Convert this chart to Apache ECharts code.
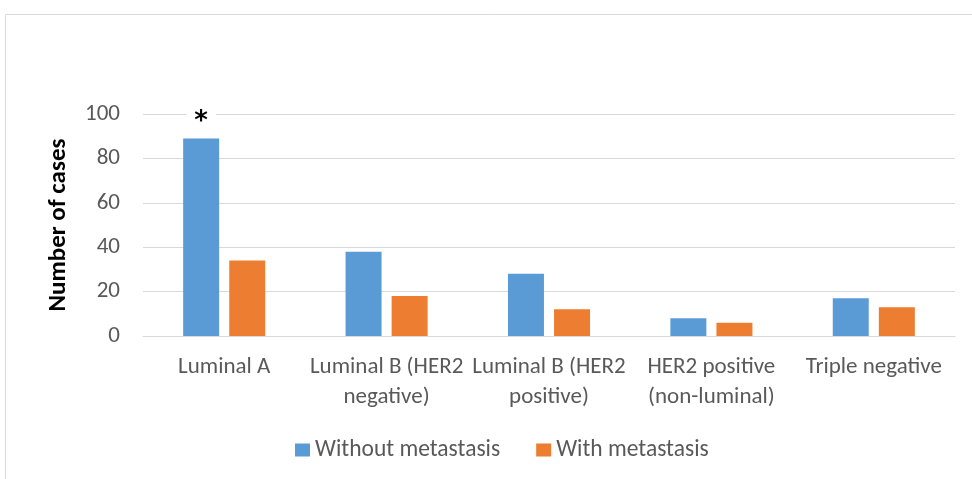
<!DOCTYPE html>
<html><head><meta charset="utf-8">
<script src="https://cdn.jsdelivr.net/npm/echarts@6/dist/echarts.min.js"></script>
<style>html,body{margin:0;padding:0;background:#fff}#c{width:972px;height:479px}</style>
</head><body><div id="c"></div>
<script>
const categories = ["Luminal A", "Luminal B (HER2 negative)", "Luminal B (HER2 positive)", "HER2 positive (non-luminal)", "Triple negative"];
const withoutMetastasis = [89, 38, 28, 8, 17];
const withMetastasis = [34, 18, 12, 6, 13];
const significance = ["*", "", "", "", ""];
const yTicks = [0, 20, 40, 60, 80, 100];

const FONT = "Carlito, 'Liberation Sans Narrow', 'Liberation Sans', sans-serif";
const chart = echarts.init(document.getElementById('c'), null, {renderer: 'canvas'});
chart.setOption({
  animation: false,
  textStyle: {fontFamily: FONT},
  graphic: [{type: 'rect', shape: {x: 5.5, y: 14.5, width: 1000, height: 1000}, style: {fill: 'none', stroke: '#d9d9d9', lineWidth: 1}, z: -10}],
  grid: {left: 143, right: 17, top: 114, bottom: 143},
  legend: {
    top: 433, left: 290, itemWidth: 15, itemHeight: 13, itemGap: 36,
    icon: 'rect',
    textStyle: {fontSize: 23.5, color: '#595959', fontFamily: FONT},
    data: ['Without metastasis', 'With metastasis']
  },
  xAxis: {
    type: 'category', data: categories,
    axisLine: {lineStyle: {color: '#d9d9d9', width: 1}},
    axisTick: {show: false},
    axisLabel: {
      fontSize: 23, color: '#595959', fontFamily: FONT, margin: 16, lineHeight: 30,
      interval: 0,
      formatter: v => v.replace(/^(Luminal B \(HER2) /, '$1\n').replace(/^(HER2 positive) /, '$1\n')
    }
  },
  yAxis: {
    type: 'value', min: 0, max: 100, interval: 20,
    name: 'Number of cases', nameLocation: 'middle', nameGap: 72,
    nameTextStyle: {fontSize: 25, fontWeight: 'bold', color: '#000', fontFamily: FONT},
    axisLine: {show: false}, axisTick: {show: false},
    axisLabel: {fontSize: 23, color: '#595959', fontFamily: FONT, margin: 23, formatter: v => yTicks.includes(v) ? String(v) : ''},
    splitLine: {lineStyle: {color: '#d9d9d9', width: 1}}
  },
  series: [
    {
      name: 'Without metastasis', type: 'bar', barWidth: 36, barGap: '28%',
      itemStyle: {color: '#5b9bd5'},
      data: withoutMetastasis.map((v, i) => ({value: v, label: {show: !!significance[i], formatter: significance[i]}})),
      label: {position: 'top', distance: 3, fontSize: 26, fontWeight: 'bold', color: '#000', backgroundColor: '#fff', padding: [0, 8, 0, 8], fontFamily: 'DejaVu Sans'}
    },
    {
      name: 'With metastasis', type: 'bar', barWidth: 36,
      itemStyle: {color: '#ed7d31'},
      data: withMetastasis
    }
  ]
});
</script></body></html>
